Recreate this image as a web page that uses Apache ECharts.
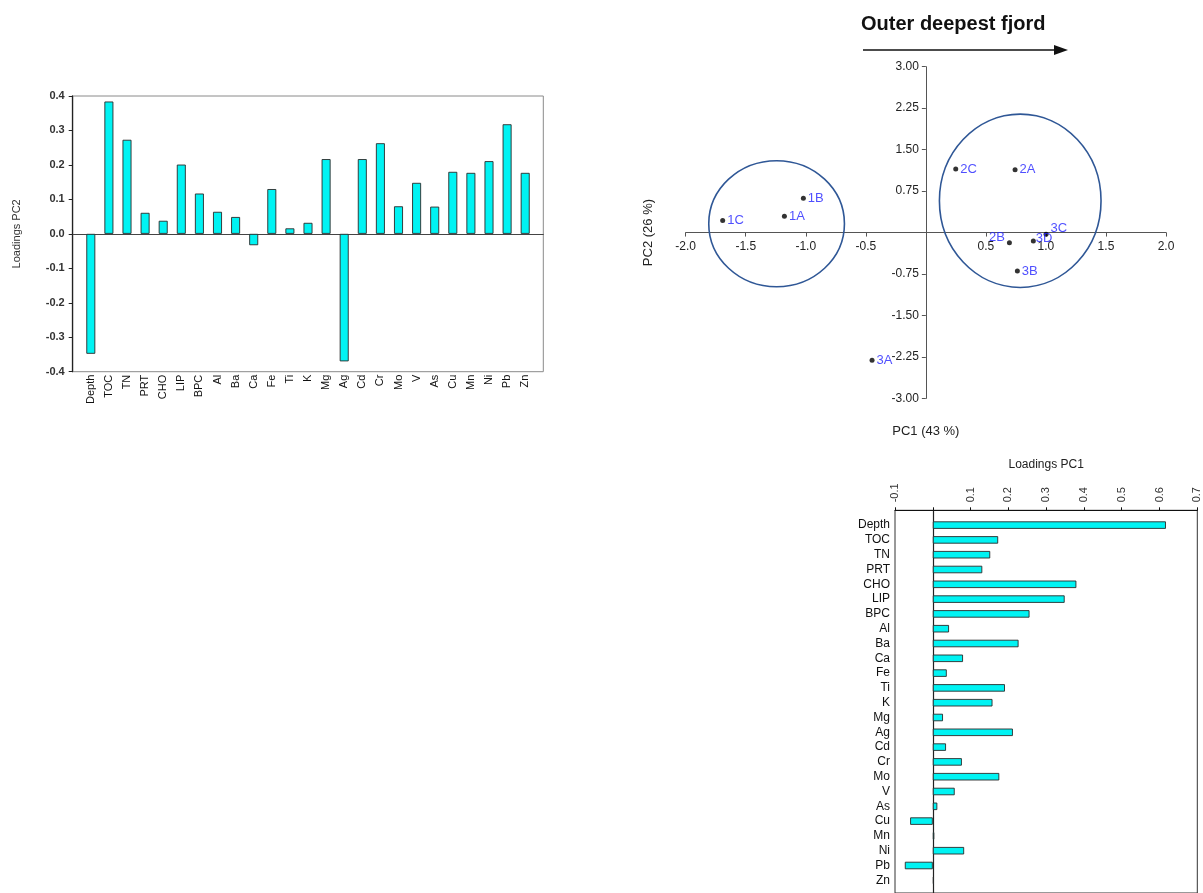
<!DOCTYPE html>
<html>
<head>
<meta charset="utf-8">
<script src="https://cdn.jsdelivr.net/npm/echarts@6/dist/echarts.min.js"></script>
<style>
  html, body { margin: 0; padding: 0; background: #fff; }
  #chart { width: 1203px; height: 893px; }
</style>
</head>
<body>
<div id="chart"></div>
<script>
// Variables used in the PCA
const variables = ['Depth', 'TOC', 'TN', 'PRT', 'CHO', 'LIP', 'BPC', 'Al', 'Ba', 'Ca', 'Fe', 'Ti', 'K',
  'Mg', 'Ag', 'Cd', 'Cr', 'Mo', 'V', 'As', 'Cu', 'Mn', 'Ni', 'Pb', 'Zn'];

// Loadings on the second and first principal components
const loadingsPC2 = [-0.348, 0.384, 0.273, 0.061, 0.038, 0.201, 0.117, 0.064, 0.049, -0.033, 0.130, 0.016, 0.032,
  0.217, -0.370, 0.217, 0.263, 0.080, 0.148, 0.079, 0.180, 0.177, 0.211, 0.318, 0.177];
const loadingsPC1 = [0.617, 0.173, 0.152, 0.131, 0.380, 0.349, 0.256, 0.043, 0.227, 0.080, 0.037, 0.191, 0.158,
  0.027, 0.212, 0.035, 0.077, 0.176, 0.058, 0.012, -0.060, 0.004, 0.083, -0.074, 0.003];

// Site scores
const sites = ['1A', '1B', '1C', '2A', '2B', '2C', '3A', '3B', '3C', '3D'];
const scoresPC1 = [-1.178, -1.020, -1.692, 0.743, 0.696, 0.249, -0.448, 0.762, 1.001, 0.895];
const scoresPC2 = [0.293, 0.619, 0.220, 1.136, -0.184, 1.149, -2.312, -0.696, -0.033, -0.154];

// Site groups: centre (PC1, PC2) and semi-axes in score units
const groupCentres = [[-1.243, 0.160], [0.786, 0.575]];
const groupSemiAxes = [[0.565, 1.140], [0.673, 1.568]];

// Axis ranges [min, max, interval]
const pc2LoadRange = [-0.4, 0.4, 0.1];
const pc1LoadRange = [-0.1, 0.7, 0.1];
const scoreRangePC1 = [-2, 2, 0.5];
const scoreRangePC2 = [-3, 3, 0.75];

const FONT = '"Liberation Sans", Arial, sans-serif';
const BAR_FILL = '#00F3F3';
const BAR_EDGE = '#2a2a2a';
const LABEL_BLUE = '#2323ff';

// score plot area; its axes cross at the origin
const scoreGrid = { left: 685.7, top: 66.7, width: 480.3, height: 331.7 };
const originShiftX = scoreGrid.height * (0 - scoreRangePC2[0]) / (scoreRangePC2[1] - scoreRangePC2[0]);
const originShiftY = scoreGrid.width * (0 - scoreRangePC1[0]) / (scoreRangePC1[1] - scoreRangePC1[0]);

// label placement for crowded sites
const labelPlacement = {
  '2B': { position: 'left', offset: [0, -5] },
  '3C': { position: 'right', offset: [0, -6] },
  '3D': { position: 'right', offset: [-2, -3] }
};

const siteData = sites.map((s, i) => {
  const item = { name: s, value: [scoresPC1[i], scoresPC2[i]] };
  if (labelPlacement[s]) item.label = labelPlacement[s];
  return item;
});
const groupData = groupCentres.map((c, i) => [c[0], c[1], groupSemiAxes[i][0], groupSemiAxes[i][1]]);

const isZero = v => Math.abs(v) < 1e-9;

const chart = echarts.init(document.getElementById('chart'), null, { renderer: 'canvas' });

chart.setOption({
  animation: false,
  backgroundColor: '#fff',
  title: {
    text: 'Outer deepest fjord',
    left: 861, top: 14, padding: 0,
    textStyle: { fontFamily: FONT, fontSize: 20, fontWeight: 'bold', color: '#111' }
  },
  graphic: [
    { type: 'line', shape: { x1: 863, y1: 50, x2: 1056, y2: 50 }, style: { stroke: '#111', lineWidth: 1.3 } },
    { type: 'polygon', shape: { points: [[1054, 45], [1068, 50], [1054, 55]] }, style: { fill: '#111' } }
  ],
  grid: [
    // 0: PC2 loadings frame
    { left: 72.7, top: 96, width: 470.6, height: 275.7, show: true, borderColor: '#8a8a8a', borderWidth: 1, backgroundColor: 'transparent' },
    // 1: PC2 loadings bars
    { left: 81.75, top: 96, width: 452.5, height: 275.7 },
    // 2: score plot
    scoreGrid,
    // 3: PC1 loadings frame
    { left: 895, top: 510.3, width: 302.3, height: 385, show: true, borderColor: '#333', borderWidth: 1, backgroundColor: 'transparent' },
    // 4: PC1 loadings bars
    { left: 895, top: 517.7, width: 302.3, height: 370 }
  ],
  xAxis: [
    { // zero line of PC2 loadings
      gridIndex: 0, type: 'value', min: 0, max: 1,
      axisLine: { show: true, onZero: true, lineStyle: { color: '#444', width: 1 } },
      axisTick: { show: false }, axisLabel: { show: false }, splitLine: { show: false }
    },
    {
      gridIndex: 1, type: 'category', data: variables, position: 'bottom',
      axisLine: { show: false, onZero: false }, axisTick: { show: false }, splitLine: { show: false },
      axisLabel: { rotate: 90, margin: 3, interval: 0, fontFamily: FONT, fontSize: 11, color: '#111' }
    },
    {
      gridIndex: 2, type: 'value', position: 'bottom', offset: -originShiftX,
      min: scoreRangePC1[0], max: scoreRangePC1[1], interval: scoreRangePC1[2],
      name: 'PC1 (43 %)', nameLocation: 'middle', nameGap: 192,
      nameTextStyle: { fontFamily: FONT, fontSize: 13, color: '#222' },
      axisLine: { show: true, onZero: false, lineStyle: { color: '#555', width: 1 } },
      axisTick: { show: true, inside: false, length: 4, lineStyle: { color: '#555' } },
      axisLabel: { margin: 8, fontFamily: FONT, fontSize: 12, color: '#222',
        formatter: v => isZero(v) ? '' : v.toFixed(1) },
      splitLine: { show: false }
    },
    {
      gridIndex: 3, type: 'value', position: 'top', min: pc1LoadRange[0], max: pc1LoadRange[1], interval: pc1LoadRange[2],
      name: 'Loadings PC1', nameLocation: 'middle', nameGap: 40,
      nameTextStyle: { fontFamily: FONT, fontSize: 12, color: '#222' },
      axisLine: { show: true, onZero: false, lineStyle: { color: '#111', width: 1.2 } },
      axisTick: { show: true, inside: false, length: 3, lineStyle: { color: '#111' } },
      axisLabel: { rotate: -90, margin: 8, fontFamily: FONT, fontSize: 11, color: '#333',
        formatter: v => isZero(v) ? '' : v.toFixed(1) },
      splitLine: { show: false }
    },
    {
      gridIndex: 4, type: 'value', min: pc1LoadRange[0], max: pc1LoadRange[1], show: false
    }
  ],
  yAxis: [
    {
      gridIndex: 0, type: 'value', min: pc2LoadRange[0], max: pc2LoadRange[1], interval: pc2LoadRange[2],
      name: 'Loadings PC2', nameLocation: 'middle', nameGap: 50, nameRotate: 90,
      nameTextStyle: { fontFamily: FONT, fontSize: 11, color: '#333' },
      axisLine: { show: true, onZero: false, lineStyle: { color: '#222', width: 1.3 } },
      axisTick: { show: true, inside: false, length: 4, lineStyle: { color: '#222' } },
      axisLabel: { margin: 8, fontFamily: FONT, fontSize: 11, fontWeight: 'bold', color: '#333',
        formatter: v => v.toFixed(1) },
      splitLine: { show: false }
    },
    {
      gridIndex: 1, type: 'value', min: pc2LoadRange[0], max: pc2LoadRange[1], show: false
    },
    {
      gridIndex: 2, type: 'value', position: 'left', offset: -originShiftY,
      min: scoreRangePC2[0], max: scoreRangePC2[1], interval: scoreRangePC2[2],
      name: 'PC2 (26 %)', nameLocation: 'middle', nameGap: 271, nameRotate: 90,
      nameTextStyle: { fontFamily: FONT, fontSize: 13, color: '#222' },
      axisLine: { show: true, onZero: false, lineStyle: { color: '#555', width: 1 } },
      axisTick: { show: true, inside: false, length: 4, lineStyle: { color: '#555' } },
      axisLabel: { margin: 7, fontFamily: FONT, fontSize: 12, color: '#222',
        formatter: v => isZero(v) ? '' : v.toFixed(2) },
      splitLine: { show: false }
    },
    { // zero line of PC1 loadings
      gridIndex: 3, type: 'value', min: 0, max: 1,
      axisLine: { show: true, onZero: true, lineStyle: { color: '#222', width: 1.2 } },
      axisTick: { show: false }, axisLabel: { show: false }, splitLine: { show: false }
    },
    {
      gridIndex: 4, type: 'category', data: variables, inverse: true,
      axisLine: { show: false, onZero: false }, axisTick: { show: false }, splitLine: { show: false },
      axisLabel: { margin: 5, interval: 0, fontFamily: FONT, fontSize: 12, color: '#111' }
    }
  ],
  series: [
    {
      name: 'Loadings PC2', type: 'bar', xAxisIndex: 1, yAxisIndex: 1,
      data: loadingsPC2, barWidth: 9,
      itemStyle: { color: BAR_FILL, borderColor: BAR_EDGE, borderWidth: 0.9 }
    },
    {
      name: 'Groups', type: 'custom', xAxisIndex: 2, yAxisIndex: 2,
      data: groupData, encode: { x: 0, y: 1 }, silent: true, z: 1,
      renderItem: (params, api) => {
        const c = api.coord([api.value(0), api.value(1)]);
        const s = api.size([api.value(2), api.value(3)]);
        return {
          type: 'ellipse',
          shape: { cx: c[0], cy: c[1], rx: s[0], ry: s[1] },
          style: { fill: 'none', stroke: '#2f5796', lineWidth: 1.6 }
        };
      }
    },
    {
      name: 'Sites', type: 'scatter', xAxisIndex: 2, yAxisIndex: 2,
      data: siteData, symbolSize: 5, z: 3,
      itemStyle: { color: '#000' },
      label: { show: true, position: 'right', distance: 2, formatter: p => p.name,
        fontFamily: FONT, fontSize: 13, color: LABEL_BLUE }
    },
    {
      name: 'Loadings PC1', type: 'bar', xAxisIndex: 4, yAxisIndex: 4,
      data: loadingsPC1, barWidth: 7.5,
      itemStyle: { color: BAR_FILL, borderColor: BAR_EDGE, borderWidth: 0.9 }
    }
  ]
});
</script>
</body>
</html>
